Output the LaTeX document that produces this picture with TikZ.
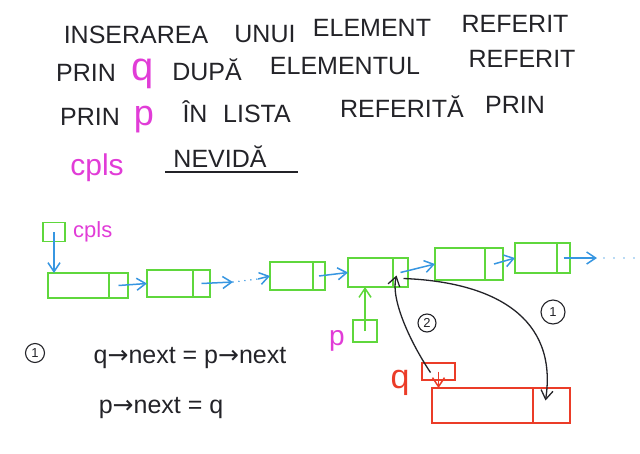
\documentclass[tikz,border=0pt]{standalone}
\usepackage{fontspec}
\setmainfont{Liberation Sans}
\newfontfamily\arrowfont{DejaVu Sans}
\usetikzlibrary{positioning, arrows.meta, calc}
\definecolor{lgreen}{RGB}{95,215,60}
\definecolor{lblue}{RGB}{55,150,225}
\definecolor{mag}{RGB}{225,60,215}
\definecolor{lred}{RGB}{235,60,40}
\definecolor{ink}{RGB}{35,35,40}
\newcommand{\ptto}{{\arrowfont →}}

\begin{document}
\begin{tikzpicture}[x=1pt, y=-1pt, >={Straight Barb[length=9pt,width=12pt]},
  cell/.style={rectangle, draw=lgreen, line width=1.6pt, inner sep=0pt, outer sep=0pt},
  rcell/.style={cell, draw=lred},
  ttl/.style={anchor=base, inner sep=0pt, text=ink, font=\fontsize{25}{25}\selectfont},
  mtl/.style={anchor=base, inner sep=0pt, text=mag},
  num/.style={circle, draw=ink, line width=1.1pt, inner sep=0pt, text=ink, font=\fontsize{13}{13}\selectfont},
  ptr/.style={->, lblue, line width=1.5pt},
  link/.style={->, ink, line width=1.3pt}]
\useasboundingbox (0,0) rectangle (640,453);

% title
\node (t1a) at (136,43) [ttl] {INSERAREA};
\node (t1b) at (265,42) [ttl] {UNUI};
\node (t1c) at (372,36) [ttl] {ELEMENT};
\node (t1d) at (515,32) [ttl] {REFERIT};
\node (t2a) at (86,81) [ttl] {PRIN};
\node (t2q) at (143,80) [mtl, font=\fontsize{40}{40}\selectfont] {q};
\node (t2b) at (207,80) [ttl] {DUPĂ};
\node (t2c) at (345,74) [ttl] {ELEMENTUL};
\node (t2d) at (522,67) [ttl] {REFERIT};
\node (t3a) at (90,125) [ttl] {PRIN};
\node (t3p) at (144,125) [mtl, font=\fontsize{36}{36}\selectfont] {p};
\node (t3b) at (195,122) [ttl] {ÎN};
\node (t3c) at (257,122) [ttl] {LISTA};
\node (t3d) at (402,117) [ttl] {REFERITĂ};
\node (t3e) at (515,113) [ttl] {PRIN};
\node (t4a) at (97,175) [mtl, font=\fontsize{30}{30}\selectfont] {cpls};
\node (t4b) at (220,167) [ttl] {NEVIDĂ};
\draw[ink, line width=1.6pt] (165,172) -- (298,172);

% lista
\node (cplsbox) at (54,232) [cell, minimum width=22pt, minimum height=19pt] {};
\node (cplslab) at (73,237) [mtl, anchor=base west, font=\fontsize{22}{22}\selectfont] {cpls};
\node (n1) at (78.5,285.5) [cell, minimum width=61pt, minimum height=25pt] {};
\node (n1x) [cell, right=0pt of n1, minimum width=19pt, minimum height=25pt] {};
\node (n2) at (170,283.5) [cell, minimum width=46pt, minimum height=27pt] {};
\node (n2x) [cell, right=0pt of n2, minimum width=17pt, minimum height=27pt] {};
\node (n3) at (291.5,276) [cell, minimum width=43pt, minimum height=28pt] {};
\node (n3x) [cell, right=0pt of n3, minimum width=12pt, minimum height=28pt] {};
\node (n4) at (370.5,272.5) [cell, minimum width=45pt, minimum height=29pt] {};
\node (n4x) [cell, right=0pt of n4, minimum width=15pt, minimum height=29pt] {};
\node (n5) at (460,264) [cell, minimum width=50pt, minimum height=32pt] {};
\node (n5x) [cell, right=0pt of n5, minimum width=18pt, minimum height=32pt] {};
\node (n6) at (536,258) [cell, minimum width=42pt, minimum height=30pt] {};
\node (n6x) [cell, right=0pt of n6, minimum width=13pt, minimum height=30pt] {};
\coordinate (d1) at (233,282);
\coordinate (d2) at (258,279);
\coordinate (e1) at (597,258);
\coordinate (e2) at (636,258);

\draw[ptr] (cplsbox.center) -- (cplsbox.center |- n1.north);
\draw[ptr] (n1x.center) -- (n2.west);
\draw[ptr] (n2x.center) -- (d1);
\draw[lblue, line width=1.6pt, line cap=round, dash pattern=on 0pt off 6pt] (d1) -- (d2);
\draw[ptr] (d2) -- (n3.west);
\draw[ptr] (n3x.center) -- (n4.west);
\draw[ptr] (n4x.center) -- (n5.west);
\draw[ptr] (n5x.center) -- (n6.west);
\draw[ptr] (n6x.center) -- (e1);
\draw[lblue!70, line width=1.6pt, line cap=round, dash pattern=on 0pt off 10pt] ($(e1)+(7,0)$) -- (e2);

% p
\node (pbox) at (365,331) [cell, minimum width=24pt, minimum height=22pt] {};
\node (plab) at (337,345) [mtl, font=\fontsize{28}{28}\selectfont] {p};
\draw[->, lgreen, line width=1.5pt] (pbox.center) -- (pbox.center |- n4.south);

% q si noul element
\node (qbox) at (438.5,371.5) [rcell, minimum width=33pt, minimum height=17pt] {};
\node (qlab) at (400,388) [anchor=base, inner sep=0pt, text=lred, font=\fontsize{34}{34}\selectfont] {q};
\node (nq) at (482.5,405.5) [rcell, minimum width=101pt, minimum height=35pt] {};
\node (nqx) [rcell, right=0pt of nq, minimum width=37pt, minimum height=35pt] {};
\draw[->, lred, line width=1.5pt] (qbox.center) -- (qbox.center |- nq.north);

% legaturile noi
\draw[link] ($(n4x.center)+(3,6)$) .. controls (495,282) and (558,318) .. ($(nqx.center)+(-6,-5)$);
\draw[link] ($(qbox.center)+(-8,1)$) .. controls (412,345) and (390,300) .. ($(n4x.center)+(-4,3)$);
\node (lab1) at (553,312) [num, minimum size=24pt] {1};
\node (lab2) at (427,323) [num, minimum size=18pt] {2};

% instructiuni
\node (eqlab) at (35,353) [num, minimum size=19pt] {1};
\node (eq1) at (190,363) [ttl] {q\ptto next = p\ptto next};
\node (eq2) at (161,413) [ttl] {p\ptto next = q};
\end{tikzpicture}
\end{document}
